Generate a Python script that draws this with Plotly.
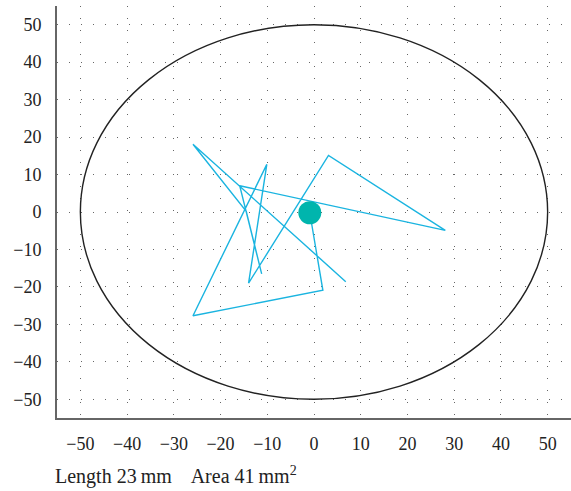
import plotly.graph_objects as go

# Sway path (mm), in order of travel
path_x = [-0.9, 1.9, -25.9, -10.1, -14.0, 3.1, 28.1, -15.9, -11.2, -14.5, -25.9, 6.8]
path_y = [-0.2, -20.9, -27.7, 12.7, -19.0, 15.1, -4.9, 7.0, -16.5, 0.2, 18.1, -18.6]

# Start marker
start_x = [-0.9]
start_y = [-0.2]

# Limit circle radius (mm)
limit_radius = 50

tick_vals = [-50, -40, -30, -20, -10, 0, 10, 20, 30, 40, 50]
tick_text = ["\u221250", "\u221240", "\u221230", "\u221220", "\u221210", "0", "10", "20", "30", "40", "50"]

caption = "Length 23\u2009mm    Area 41\u2009mm<sup>2</sup>"

fig = go.Figure()
fig.add_shape(type="circle", xref="x", yref="y",
              x0=-limit_radius, x1=limit_radius, y0=-limit_radius, y1=limit_radius,
              line=dict(color="#222222", width=1.4), layer="above")
fig.add_trace(go.Scatter(x=path_x, y=path_y, mode="lines",
                         line=dict(color="#1ab4e0", width=1.4), hoverinfo="skip"))
fig.add_trace(go.Scatter(x=start_x, y=start_y, mode="markers",
                         marker=dict(color="#00b5ad", size=23, line=dict(width=0)),
                         hoverinfo="skip"))

font = dict(family="Liberation Serif, DejaVu Serif, serif", size=18, color="#222222")
axis_common = dict(
    range=[-55, 55], tickmode="array", tickvals=tick_vals, ticktext=tick_text,
    showgrid=True, gridcolor="#666666", gridwidth=1, griddash="1px,11px",
    zeroline=False, showline=True, linecolor="#666666", linewidth=2,
    ticks="", tickfont=font, automargin=False,
)
fig.update_xaxes(**axis_common, ticklabelstandoff=8)
fig.update_yaxes(**axis_common, ticklabelstandoff=10)

fig.add_annotation(text=caption, xref="paper", yref="paper",
                   x=-0.008, y=-0.14, xanchor="left", yanchor="middle",
                   showarrow=False, font=dict(family=font["family"], size=20, color="#222222"))

fig.update_layout(
    width=571, height=491,
    margin=dict(l=57, r=0, t=6, b=73),
    paper_bgcolor="white", plot_bgcolor="white",
    showlegend=False, font=font,
)
fig.write_html("out.html", config={"displayModeBar": False},
               post_script="document.body.style.margin='0';document.body.style.overflow='hidden';")
